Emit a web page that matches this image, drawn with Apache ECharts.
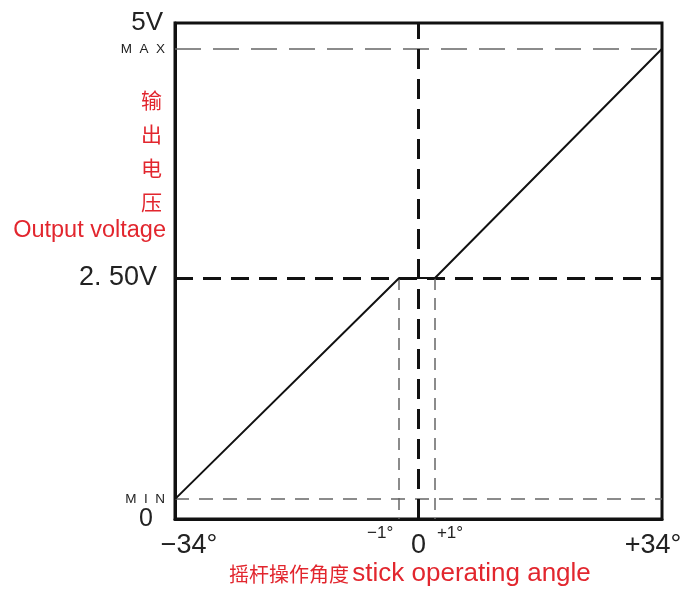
<!DOCTYPE html>
<html>
<head>
<meta charset="utf-8">
<script src="https://cdn.jsdelivr.net/npm/echarts@6/dist/echarts.min.js"></script>
<style>
  html, body { margin: 0; padding: 0; background: #fff; }
  #chart { width: 683px; height: 590px; }
</style>
</head>
<body>
<div id="chart"></div>
<script>
// 摇杆角度 (x) 与输出电压 (y)
const angleMin = -34;
const angleMax = 34;
const voltMin = 0;
const voltMax = 5;

// 特性曲线的拐点
const curveAngles = [-34, -2.7, 2.3, 34];
const curveVolts = [0.2, 2.43, 2.43, 4.74];

// 参考线
const levelMax = 4.74;
const levelMin = 0.2;
const levelMid = 2.43;
const deadband = [-2.7, 2.3];

// 刻度标签
const xTickValues = [-34, -2.7, 0, 2.3, 34];
const xTickLabels = ['−34°', '−1°', '0', '+1°', '+34°'];
const xTickStyles = ['l34', 'm1', 'zero', 'p1', 'r34'];

const yTickValues = [0, 0.2, 2.43, 4.74, 5];
const yTickLabels = ['0', 'M  I  N', '2. 50V', 'M  A  X', '5V'];
const yTickStyles = ['zero', 'small', 'mid', 'small', 'top'];

const red = '#e2262e';
const latin = 'Liberation Sans';
const cjk = 'Noto Sans CJK SC';

const chart = echarts.init(document.getElementById('chart'));

let option = {
    animation: false,
    backgroundColor: '#fff',
    grid: {
        left: 175,
        right: 21,
        top: 23,
        bottom: 71,
        outerBoundsMode: 'none',
        containLabel: false,
        show: true,
        borderColor: '#111',
        borderWidth: 3
    },
    xAxis: {
        type: 'value',
        min: angleMin,
        max: angleMax,
        axisLine: { show: true, onZero: false, lineStyle: { color: '#111', width: 3 } },
        axisTick: { show: false },
        splitLine: { show: false },
        axisLabel: {
            customValues: xTickValues,
            margin: 4,
            hideOverlap: false,
            color: '#222',
            fontFamily: latin,
            formatter: function (v) {
                const i = xTickValues.indexOf(v);
                return '{' + xTickStyles[i] + '|' + xTickLabels[i] + '}';
            },
            rich: {
                l34: { fontSize: 27, fontFamily: latin, color: '#222', lineHeight: 46, padding: [0, 0, 0, 28] },
                r34: { fontSize: 27, fontFamily: latin, color: '#222', lineHeight: 46, padding: [0, 18, 0, 0] },
                zero: { fontSize: 27, fontFamily: latin, color: '#222', lineHeight: 46 },
                m1: { fontSize: 17, fontFamily: latin, color: '#222', lineHeight: 20, padding: [0, 38, 0, 0] },
                p1: { fontSize: 17, fontFamily: latin, color: '#222', lineHeight: 20, padding: [0, 0, 0, 30] }
            }
        }
    },
    yAxis: {
        type: 'value',
        min: voltMin,
        max: voltMax,
        axisLine: { show: true, onZero: false, lineStyle: { color: '#111', width: 3 } },
        axisTick: { show: false },
        splitLine: { show: false },
        axisLabel: {
            customValues: yTickValues,
            margin: 10,
            hideOverlap: false,
            color: '#222',
            fontFamily: latin,
            formatter: function (v) {
                const i = yTickValues.indexOf(v);
                return '{' + yTickStyles[i] + '|' + yTickLabels[i] + '}';
            },
            rich: {
                top: { fontSize: 26, fontFamily: latin, color: '#222', padding: [0, 2, 0, 0] },
                mid: { fontSize: 27, fontFamily: latin, color: '#222', padding: [0, 8, 0, 0] },
                zero: { fontSize: 25, fontFamily: latin, color: '#222', padding: [0, 12, 0, 0] },
                small: { fontSize: 13.5, fontFamily: latin, color: '#222' }
            }
        }
    },
    graphic: [
        {
            type: 'text',
            left: 141,
            top: 83,
            style: {
                text: '输\n出\n电\n压',
                fill: red,
                font: '21px "' + cjk + '"',
                lineHeight: 34,
                textAlign: 'center'
            }
        },
        {
            type: 'text',
            right: 683 - 166,
            top: 219,
            style: {
                text: 'Output voltage',
                fill: red,
                font: '23.5px "' + latin + '"'
            }
        },
        {
            type: 'text',
            left: 229,
            top: 561,
            style: {
                text: '{cn|摇杆操作角度} {en|stick operating angle}',
                rich: {
                    cn: { fontSize: 20, fontFamily: cjk, fill: red },
                    en: { fontSize: 26, fontFamily: latin, fill: red }
                },
                fill: red
            }
        }
    ],
    series: [
        {
            name: 'guides',
            type: 'line',
            data: [],
            markLine: {
                silent: true,
                symbol: ['none', 'none'],
                label: { show: false },
                data: [
                    { yAxis: levelMax, lineStyle: { color: '#666', width: 1.5, type: [26, 12] } },
                    { yAxis: levelMin, lineStyle: { color: '#666', width: 1.5, type: [14, 10] } },
                    { yAxis: levelMid, lineStyle: { color: '#111', width: 3, type: [18, 10] } },
                    { xAxis: 0, lineStyle: { color: '#111', width: 3, type: [20, 10] } },
                    [
                        { coord: [deadband[0], levelMid], lineStyle: { color: '#666', width: 1.5, type: [12, 8] } },
                        { coord: [deadband[0], voltMin] }
                    ],
                    [
                        { coord: [deadband[1], levelMid], lineStyle: { color: '#666', width: 1.5, type: [12, 8] } },
                        { coord: [deadband[1], voltMin] }
                    ]
                ]
            }
        },
        {
            name: 'output',
            type: 'line',
            symbol: 'none',
            z: 5,
            lineStyle: { color: '#111', width: 2 },
            data: curveAngles.map(function (a, i) {
                return [a, curveVolts[i]];
            })
        }
    ]
};

chart.setOption(option);
</script>
</body>
</html>
